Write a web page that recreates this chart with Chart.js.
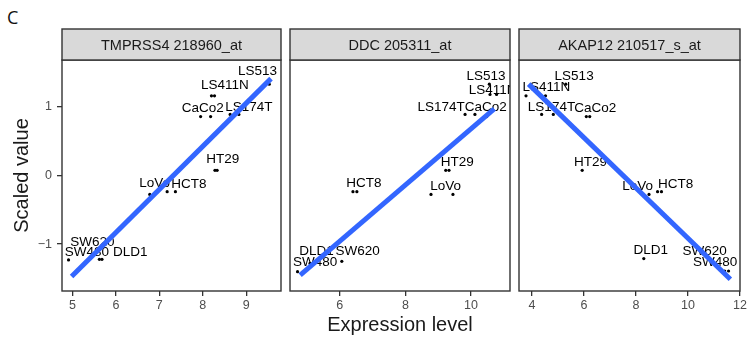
<!DOCTYPE html>
<html>
<head>
<meta charset="utf-8">
<script src="https://cdn.jsdelivr.net/npm/chart.js@4/dist/chart.umd.min.js"></script>
<style>
  body { margin: 0; background: #fff; }
  #wrap { position: relative; width: 749px; height: 349px; }
  canvas { position: absolute; top: 0; }
  #tag { position: absolute; left: 7px; top: 5px; font: 18px 'Open Sans', sans-serif; color: #111; }
</style>
</head>
<body>
<div id="wrap">
  <div id="tag">C</div>
  <canvas id="c1" width="286" height="349" style="left:0"></canvas>
  <canvas id="c2" width="228" height="349" style="left:286px"></canvas>
  <canvas id="c3" width="235" height="349" style="left:514px"></canvas>
</div>
<script>
// ---- data ----
const titles = ['TMPRSS4 218960_at', 'DDC 205311_at', 'AKAP12 210517_s_at'];
const cellLines = ['LS513', 'LS411N', 'CaCo2', 'LS174T', 'HT29', 'LoVo', 'HCT8', 'SW620', 'SW480', 'DLD1'];
const yTicks = [-1, 0, 1];
const yLim = [-1.68, 1.67];

// TMPRSS4
const p1X = [9.53, 8.20, 8.27, 7.95, 8.18, 8.63, 8.83, 8.28, 8.33, 6.78, 7.18, 7.37, 4.91, 5.62, 5.68];
const p1Y = [1.32, 1.15, 1.15, 0.85, 0.85, 0.88, 0.88, 0.07, 0.07, -0.28, -0.24, -0.24, -1.23, -1.22, -1.22];
const p1LabX = [9.26, 8.51, 8.00, 9.06, 8.46, 6.89, 7.68, 5.46, 5.33, 6.33];
const p1LabY = [1.51, 1.30, 0.97, 0.99, 0.23, -0.12, -0.13, -0.97, -1.12, -1.12];
const p1Fit = [[4.98, -1.47], [9.57, 1.40]];
const p1Ticks = [5, 6, 7, 8, 9];
const p1Lim = [4.76, 9.80];

// DDC
const p2X = [10.56, 10.58, 10.78, 9.82, 10.12, 10.48, 9.23, 9.33, 8.78, 9.45, 6.40, 6.52, 4.71, 5.09, 6.06];
const p2Y = [1.32, 1.17, 1.17, 0.88, 0.88, 0.85, 0.07, 0.07, -0.28, -0.28, -0.24, -0.24, -1.40, -1.28, -1.25];
const p2LabX = [10.46, 10.66, 10.45, 9.09, 9.58, 9.23, 6.73, 6.54, 5.25, 5.29];
const p2LabY = [1.44, 1.23, 0.99, 0.99, 0.19, -0.16, -0.12, -1.10, -1.26, -1.10];
const p2Fit = [[4.79, -1.45], [10.71, 0.96]];
const p2Ticks = [6, 8, 10];
const p2Lim = [4.48, 11.19];

// AKAP12
const p3X = [5.30, 3.77, 4.52, 4.37, 4.82, 6.09, 6.22, 5.93, 8.50, 8.83, 8.98, 8.30, 11.41, 11.56];
const p3Y = [1.32, 1.15, 1.15, 0.88, 0.88, 0.85, 0.85, 0.07, -0.28, -0.24, -0.24, -1.21, -1.39, -1.39];
const p3LabX = [5.62, 4.55, 6.43, 4.75, 6.25, 8.06, 9.52, 10.64, 11.04, 8.57];
const p3LabY = [1.44, 1.27, 0.97, 0.99, 0.19, -0.16, -0.13, -1.10, -1.26, -1.09];
const p3Fit = [[3.87, 1.32], [11.63, -1.51]];
const p3Ticks = [4, 6, 8, 10, 12];
const p3Lim = [3.5, 12.0];

Chart.defaults.font.family = "'Liberation Sans', Arial, sans-serif";
Chart.defaults.color = '#4d4d4d';

// strip on top, panel frame and point labels
const facetPlugin = {
  id: 'facet',
  beforeDatasetsDraw(chart, args, opts) {
    const { ctx, chartArea: a, scales } = chart;
    ctx.save();
    ctx.beginPath();
    ctx.rect(a.left, a.top, a.right - a.left, a.bottom - a.top);
    ctx.clip();
    ctx.fillStyle = '#000';
    ctx.font = "13.5px 'Liberation Sans', Arial, sans-serif";
    ctx.textAlign = 'center';
    ctx.textBaseline = 'middle';
    cellLines.forEach((name, i) => {
      ctx.fillText(name, scales.x.getPixelForValue(opts.lx[i]), scales.y.getPixelForValue(opts.ly[i]));
    });
    ctx.restore();
  },
  afterDraw(chart, args, opts) {
    const { ctx, chartArea: a } = chart;
    ctx.save();
    ctx.strokeStyle = '#333';
    ctx.lineWidth = 1.4;
    ctx.strokeRect(a.left, a.top, a.right - a.left, a.bottom - a.top);
    ctx.fillStyle = '#d9d9d9';
    ctx.fillRect(a.left, 29, a.right - a.left, a.top - 29);
    ctx.strokeRect(a.left, 29, a.right - a.left, a.top - 29);
    ctx.fillStyle = '#1a1a1a';
    ctx.font = "14.5px 'Liberation Sans', Arial, sans-serif";
    ctx.textAlign = 'center';
    ctx.textBaseline = 'middle';
    ctx.fillText(opts.title, (a.left + a.right) / 2, (29 + a.top) / 2 + 1);
    ctx.restore();
  }
};

function makePanel(id, idx, xs, ys, lx, ly, fit, ticks, lim, pad, first, middle) {
  new Chart(document.getElementById(id), {
    type: 'scatter',
    data: {
      datasets: [
        {
          type: 'line',
          data: fit.map(p => ({ x: p[0], y: p[1] })),
          borderColor: '#3366ff',
          borderWidth: 5,
          borderCapStyle: 'butt',
          pointRadius: 0,
          order: 0
        },
        {
          data: xs.map((x, i) => ({ x: x, y: ys[i] })),
          backgroundColor: '#000',
          borderWidth: 0,
          pointRadius: 1.6,
          order: 1
        }
      ]
    },
    options: {
      responsive: false,
      animation: false,
      events: [],
      layout: { padding: pad },
      plugins: {
        legend: { display: false },
        tooltip: { enabled: false },
        facet: { title: titles[idx], lx: lx, ly: ly }
      },
      scales: {
        x: {
          type: 'linear',
          min: lim[0],
          max: lim[1],
          afterBuildTicks: s => { s.ticks = ticks.map(v => ({ value: v })); },
          afterFit: s => { s.height = 49; },
          border: { display: false },
          grid: { drawOnChartArea: false, drawTicks: true, tickLength: 5, color: '#333', lineWidth: 1.3 },
          ticks: { padding: 2, font: { size: 12.5 }, color: '#4d4d4d', maxRotation: 0 },
          title: {
            display: middle,
            text: 'Expression level',
            color: '#1a1a1a',
            font: { size: 20 },
            padding: { top: 0, bottom: 3 }
          }
        },
        y: {
          display: first,
          min: yLim[0],
          max: yLim[1],
          afterBuildTicks: s => { s.ticks = yTicks.map(v => ({ value: v })); },
          afterFit: s => { s.width = first ? 57 : 0; },
          border: { display: false },
          grid: { drawOnChartArea: false, drawTicks: true, tickLength: 5, color: '#333', lineWidth: 1.3 },
          ticks: {
            padding: 5,
            font: { size: 12.5 },
            color: '#4d4d4d',
            callback: v => v < 0 ? '\u2212' + Math.abs(v) : String(v)
          },
          title: {
            display: true,
            text: 'Scaled value',
            color: '#1a1a1a',
            font: { size: 20 },
            padding: { top: 5, bottom: 0 }
          }
        }
      }
    },
    plugins: [facetPlugin]
  });
}

makePanel('c1', 0, p1X, p1Y, p1LabX, p1LabY, p1Fit, p1Ticks, p1Lim, { top: 60, right: 5, bottom: 9, left: 5 }, true, false);
makePanel('c2', 1, p2X, p2Y, p2LabX, p2LabY, p2Fit, p2Ticks, p2Lim, { top: 60, right: 4, bottom: 9, left: 4 }, false, true);
makePanel('c3', 2, p3X, p3Y, p3LabX, p3LabY, p3Fit, p3Ticks, p3Lim, { top: 60, right: 9, bottom: 9, left: 5 }, false, false);
</script>
</body>
</html>
